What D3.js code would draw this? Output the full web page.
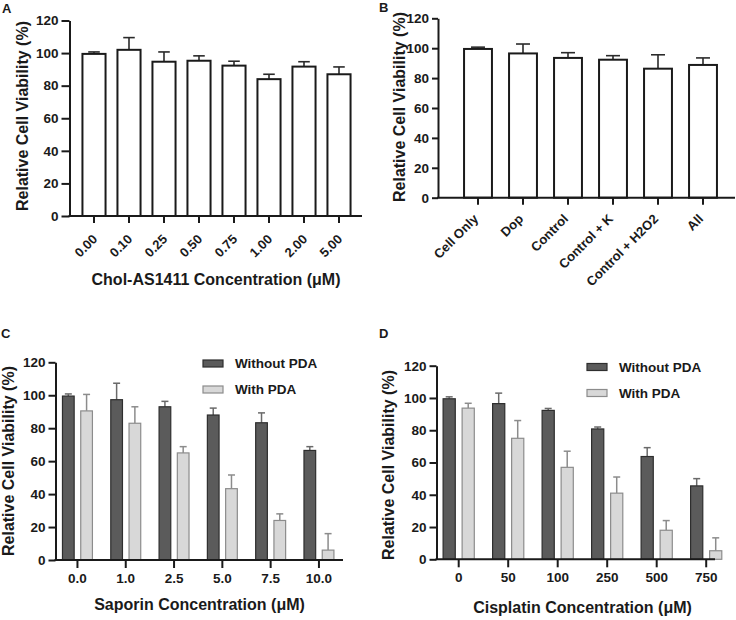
<!DOCTYPE html>
<html>
<head>
<meta charset="utf-8">
<script src="https://cdn.jsdelivr.net/npm/d3@7"></script>
<style>
  html, body { margin: 0; padding: 0; background: #fff; }
  svg { display: block; }
  text { font-family: "Liberation Sans", Arial, Helvetica, sans-serif; fill: #1a1a1a; }
</style>
</head>
<body>
<svg id="chart" width="736" height="620"></svg>
<script>
// ---------- DATA ----------
const yTicks = [0, 20, 40, 60, 80, 100, 120];
const seriesNames = ["Without PDA", "With PDA"];

const aCats = ["0.00", "0.10", "0.25", "0.50", "0.75", "1.00", "2.00", "5.00"];
const aVals = [99.5, 102, 94.7, 95.3, 92.3, 84, 91.7, 87];
const aErr  = [1.2, 7.5, 6, 3, 2.7, 3, 3, 4.5];

const bCats = ["Cell Only", "Dop", "Control", "Control + K", "Control + H2O2", "All"];
const bVals = [99.5, 96.5, 93.5, 92.3, 86.3, 88.8];
const bErr  = [1.2, 6.3, 3.5, 2.7, 9.3, 4.7];

const cCats = ["0.0", "1.0", "2.5", "5.0", "7.5", "10.0"];
const cWithout    = [99.5, 97.3, 93, 88, 83.3, 66.5];
const cWithoutErr = [1.3, 10, 3.3, 4.2, 6, 2.3];
const cWith       = [90.5, 83, 65, 43.3, 24, 6];
const cWithErr    = [10, 10, 3.8, 8.3, 4, 10];

const dCats = ["0", "50", "100", "250", "500", "750"];
const dWithout    = [99.5, 96.5, 92.3, 80.8, 63.7, 45.5];
const dWithoutErr = [1.2, 6.5, 1.2, 1.2, 5.5, 4.5];
const dWith       = [93.7, 75, 57, 41, 18, 5.3];
const dWithErr    = [3, 11, 10, 10, 6, 8];

// ---------- DRAW ----------
const svg = d3.select("#chart");
const yTitle = "Relative Cell Viability (%)";
const FONT_TICK = 13.5;

function yAxis(g, y, axisX, tickLen, pad) {
  const ax = d3.axisLeft(y).tickValues(yTicks).tickSize(tickLen).tickPadding(pad).tickSizeOuter(0);
  const gg = g.append("g").attr("transform", `translate(${axisX},0)`).call(ax);
  gg.select(".domain").attr("stroke", "#1a1a1a").attr("stroke-width", 2);
  gg.selectAll(".tick line").attr("stroke", "#1a1a1a").attr("stroke-width", 2);
  gg.selectAll(".tick text").attr("font-size", FONT_TICK).attr("font-weight", "bold")
    .attr("fill", "#1a1a1a").style("font-family", '"Liberation Sans", Arial, sans-serif');
  return gg;
}

function xAxisLine(g, x0, x1, yPos) {
  g.append("line").attr("x1", x0).attr("x2", x1).attr("y1", yPos).attr("y2", yPos)
    .attr("stroke", "#1a1a1a").attr("stroke-width", 2);
}

function xTicks(g, x, yPos, len) {
  g.selectAll(null).data(x.domain()).enter().append("line")
    .attr("x1", d => x(d) + x.bandwidth() / 2).attr("x2", d => x(d) + x.bandwidth() / 2)
    .attr("y1", yPos).attr("y2", yPos + len)
    .attr("stroke", "#1a1a1a").attr("stroke-width", 2);
}

function yTitleText(cx, cy) {
  svg.append("text").attr("transform", `translate(${cx},${cy}) rotate(-90)`)
    .attr("text-anchor", "middle").attr("font-size", 16).attr("font-weight", "bold")
    .text(yTitle);
}

function panelLabel(t, x, y) {
  svg.append("text").attr("x", x).attr("y", y).attr("font-size", 13).attr("font-weight", "bold").text(t);
}

// ----- Single series bar panel (A, B) -----
function singlePanel(opts) {
  const g = svg.append("g");
  const y = d3.scaleLinear().domain([0, 120]).range([opts.y0, opts.y120]);
  const x = d3.scaleBand().domain(opts.cats).range(opts.xRange)
    .paddingInner(opts.pad).paddingOuter(opts.pad / 2);
  const data = opts.cats.map((c, i) => ({ c, v: opts.vals[i], e: opts.errs[i] }));
  const capW = x.bandwidth() * 0.5;

  // error bars (upward only)
  g.selectAll(null).data(data).enter().append("line")
    .attr("x1", d => x(d.c) + x.bandwidth() / 2).attr("x2", d => x(d.c) + x.bandwidth() / 2)
    .attr("y1", d => y(d.v)).attr("y2", d => y(d.v + d.e))
    .attr("stroke", "#2a2a2a").attr("stroke-width", 1.6);
  g.selectAll(null).data(data).enter().append("line")
    .attr("x1", d => x(d.c) + x.bandwidth() / 2 - capW / 2).attr("x2", d => x(d.c) + x.bandwidth() / 2 + capW / 2)
    .attr("y1", d => y(d.v + d.e)).attr("y2", d => y(d.v + d.e))
    .attr("stroke", "#2a2a2a").attr("stroke-width", 1.6);

  g.selectAll(null).data(data).enter().append("rect")
    .attr("x", d => x(d.c)).attr("width", x.bandwidth())
    .attr("y", d => y(d.v)).attr("height", d => y(0) - y(d.v))
    .attr("fill", "#fff").attr("stroke", "#1a1a1a").attr("stroke-width", 2);

  yAxis(g, y, opts.axisX, opts.tickLen, opts.tickPad);
  xAxisLine(g, opts.axisX - 1, opts.axisEnd, y(0));
  xTicks(g, x, y(0), 7);

  g.selectAll(null).data(opts.cats).enter().append("text")
    .attr("transform", d => `translate(${x(d) + x.bandwidth() / 2 + opts.lblDx},${y(0) + opts.lblDy}) rotate(-45)`)
    .attr("text-anchor", "end").attr("font-size", opts.lblSize).attr("font-weight", opts.lblWeight)
    .text(d => d);
  return { x, y };
}

// ----- Grouped bar panel (C, D) -----
function groupedPanel(opts) {
  const g = svg.append("g");
  const y = d3.scaleLinear().domain([0, 120]).range([opts.y0, opts.y120]);
  const x0 = d3.scaleBand().domain(opts.cats).range(opts.xRange)
    .paddingInner(opts.pad).paddingOuter(opts.pad / 2);
  const x1 = d3.scaleBand().domain(seriesNames).range([0, x0.bandwidth()]).paddingInner(0.36);
  const fills = { "Without PDA": "#5b5b5b", "With PDA": "#d8d8d8" };
  const strokes = { "Without PDA": "#2e2e2e", "With PDA": "#8c8c8c" };
  const errCol = { "Without PDA": "#6a6a6a", "With PDA": "#8c8c8c" };
  const data = [];
  opts.cats.forEach((c, i) => {
    data.push({ c, s: "Without PDA", v: opts.without[i], e: opts.withoutErr[i] });
    data.push({ c, s: "With PDA", v: opts.with[i], e: opts.withErr[i] });
  });
  const cx = d => x0(d.c) + x1(d.s) + x1.bandwidth() / 2;
  const capW = 7;

  g.selectAll(null).data(data).enter().append("line")
    .attr("x1", cx).attr("x2", cx)
    .attr("y1", d => y(d.v)).attr("y2", d => y(d.v + d.e))
    .attr("stroke", d => errCol[d.s]).attr("stroke-width", 1.5);
  g.selectAll(null).data(data).enter().append("line")
    .attr("x1", d => cx(d) - capW / 2).attr("x2", d => cx(d) + capW / 2)
    .attr("y1", d => y(d.v + d.e)).attr("y2", d => y(d.v + d.e))
    .attr("stroke", d => errCol[d.s]).attr("stroke-width", 1.5);

  g.selectAll(null).data(data).enter().append("rect")
    .attr("x", d => x0(d.c) + x1(d.s)).attr("width", x1.bandwidth())
    .attr("y", d => y(d.v)).attr("height", d => y(0) - y(d.v))
    .attr("fill", d => fills[d.s]).attr("stroke", d => strokes[d.s]).attr("stroke-width", 1.2);

  yAxis(g, y, opts.axisX, 7, 3);
  xAxisLine(g, opts.axisX - 1, opts.axisEnd, y(0));
  xTicks(g, x0, y(0), 8);

  g.selectAll(null).data(opts.cats).enter().append("text")
    .attr("x", d => x0(d) + x0.bandwidth() / 2).attr("y", y(0) + 23)
    .attr("text-anchor", "middle").attr("font-size", FONT_TICK).attr("font-weight", "bold")
    .text(d => d);

  // legend
  const lg = g.append("g").attr("transform", `translate(${opts.legX},${opts.legY})`);
  seriesNames.forEach((s, i) => {
    lg.append("rect").attr("x", 0).attr("y", i * 26 - 8).attr("width", 20).attr("height", 7)
      .attr("fill", fills[s]).attr("stroke", strokes[s]).attr("stroke-width", 1.2);
    lg.append("text").attr("x", 32).attr("y", i * 26).attr("font-size", FONT_TICK)
      .attr("font-weight", "bold").text(s);
  });

  svg.append("text").attr("x", opts.titleX).attr("y", opts.titleY)
    .attr("text-anchor", "middle").attr("font-size", 16).attr("font-weight", "bold")
    .text(opts.title);
}

// Panel A
singlePanel({
  cats: aCats, vals: aVals, errs: aErr,
  y0: 216, y120: 20.5, xRange: [76.5, 356.5], pad: 0.34,
  axisX: 69.5, axisEnd: 362, tickLen: 8, tickPad: 3,
  lblDx: 4, lblDy: 24, lblSize: 13, lblWeight: "bold"
});
yTitleText(28, 116);
svg.append("text").attr("x", 216).attr("y", 285).attr("text-anchor", "middle")
  .attr("font-size", 16).attr("font-weight", "bold").text("Chol-AS1411 Concentration (\u03bcM)");
panelLabel("A", 2, 13);

// Panel B
singlePanel({
  cats: bCats, vals: bVals, errs: bErr,
  y0: 197.7, y120: 18.3, xRange: [455.5, 725.5], pad: 0.38,
  axisX: 438, axisEnd: 735, tickLen: 6, tickPad: 3,
  lblDx: 1, lblDy: 22, lblSize: 13, lblWeight: "bold"
});
yTitleText(405, 107);
panelLabel("B", 379, 12);

// Panel C
groupedPanel({
  cats: cCats, without: cWithout, withoutErr: cWithoutErr, with: cWith, withErr: cWithErr,
  y0: 560, y120: 362.3, xRange: [53.3, 343.1], pad: 0.38,
  axisX: 55.5, axisEnd: 343, legX: 203, legY: 368,
  title: "Saporin Concentration (\u03bcM)", titleX: 199.5, titleY: 610
});
yTitleText(14, 461);
panelLabel("C", 1, 338);

// Panel D
groupedPanel({
  cats: dCats, without: dWithout, withoutErr: dWithoutErr, with: dWith, withErr: dWithErr,
  y0: 559.3, y120: 365.7, xRange: [433.95, 730.95], pad: 0.37,
  axisX: 436.5, axisEnd: 715, legX: 587, legY: 371.5,
  title: "Cisplatin Concentration (\u03bcM)", titleX: 582.5, titleY: 613
});
yTitleText(394, 465);
panelLabel("D", 379, 338);
</script>
</body>
</html>
